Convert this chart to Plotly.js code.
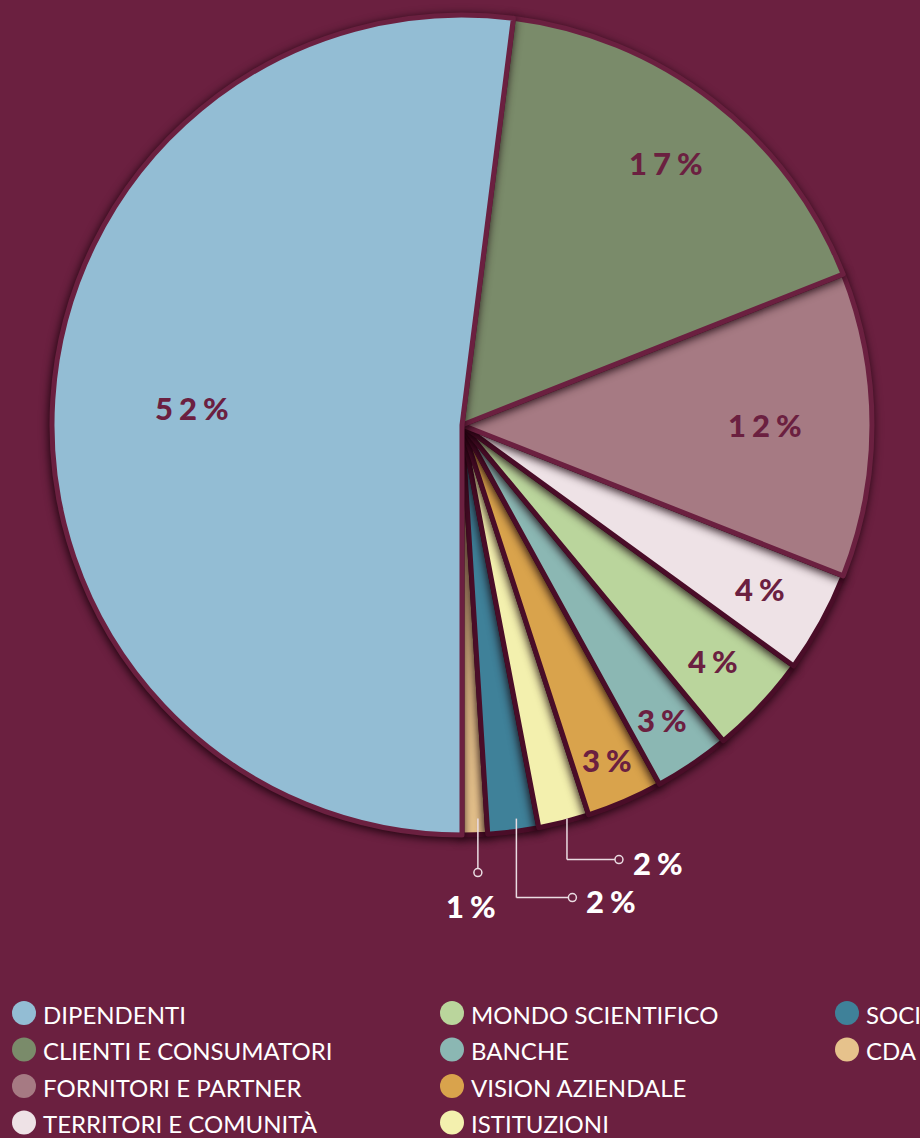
<!DOCTYPE html>
<html>
<head>
<meta charset="utf-8">
<script src="https://cdn.plot.ly/plotly-3.0.1.min.js"></script>
<style>
  html, body { margin: 0; padding: 0; background: #6B2040; }
  #chart { width: 920px; height: 1138px; }
  .slice path.surface { filter: drop-shadow(-1px 2px 5px rgba(20, 0, 8, 0.9)); }
</style>
</head>
<body>
<div id="chart"></div>
<script>
// share of stakeholders (%)
var labels = ['DIPENDENTI', 'CLIENTI E CONSUMATORI', 'FORNITORI E PARTNER', 'TERRITORI E COMUNITÀ',
    'MONDO SCIENTIFICO', 'BANCHE', 'VISION AZIENDALE', 'ISTITUZIONI', 'SOCI', 'CDA'];
var values = [52, 17, 12, 4, 4, 3, 3, 2, 2, 1];
var colors = ['#93BDD4', '#7A8B6A', '#A67A83', '#EEE2E6', '#BAD59C',
    '#8BB7B3', '#D9A34C', '#F3F0AE', '#3F8199', '#E6C28C'];

// legend columns (indexes into labels)
var legendCols = [[0, 1, 2, 3], [4, 5, 6, 7], [8, 9]];
// where the percentage sits inside each slice (fraction of radius)
var insideRadius = [0.66, 0.81, 0.74, 0.83, 0.84, 0.87, 0.89];
// thin slices get an outside label with a leader line
var outside = [7, 8, 9];
var calloutDrop = [41, 79, 54];
var calloutRun = [52, 56, 0];

var W = 920, H = 1138;
var BG = '#6B2040';
var DARK_EDGE = '#4A0D28';
var domX = [52 / W, 872 / W];
var domY = [1 - 835 / H, 1 - 15 / H];

var cx = (domX[0] + domX[1]) / 2 * W;
var cy = (1 - (domY[0] + domY[1]) / 2) * H;
var R = Math.min((domX[1] - domX[0]) * W, (domY[1] - domY[0]) * H) / 2;

function px(x) { return x / W; }
function py(y) { return 1 - y / H; }
function tracked(s) { return '<span style="letter-spacing:6px">' + s + '</span>'; }

var total = values.reduce(function (a, b) { return a + b; }, 0);
// the narrow slices are separated by darker edges
var edgeColors = values.map(function (v, i) { return i >= 3 ? DARK_EDGE : BG; });

// drawn in reverse (counterclockwise) so the big slices sit on top with their shadow;
// plotly puts the first counterclockwise slice clockwise of the rotation angle
var traces = [{
    type: 'pie',
    labels: labels.slice().reverse(),
    values: values.slice().reverse(),
    textinfo: 'none',
    sort: false,
    direction: 'counterclockwise',
    rotation: 180 - 360 * values[values.length - 1] / total,
    marker: {
        colors: colors.slice().reverse(),
        line: { color: edgeColors.slice().reverse(), width: 5 }
    },
    domain: { x: domX, y: domY },
    showlegend: false,
    hoverinfo: 'skip'
}];

// slice mid angles (clockwise from 12 o'clock, DIPENDENTI starts at 6 o'clock)
var mids = [], cum = 0;
values.forEach(function (v) { mids.push(Math.PI + 2 * Math.PI * (cum + v / 2) / total); cum += v; });

var shapes = [], annotations = [];
var pctFont = { family: 'Lato', size: 31, weight: 900, color: BG };

insideRadius.forEach(function (f, i) {
    annotations.push({
        xref: 'paper', yref: 'paper', showarrow: false,
        x: px(cx + f * R * Math.sin(mids[i]) + 3), y: py(cy - f * R * Math.cos(mids[i])),
        xanchor: 'center', yanchor: 'middle',
        text: tracked(values[i] + '%'), font: pctFont
    });
});

var lineTop = cy + 0.96 * R;
var lineStyle = { color: '#EADCE2', width: 1.5 };
outside.forEach(function (idx, k) {
    var x0 = cx + R * Math.sin(mids[idx]) + 3;
    var yEnd = lineTop + calloutDrop[k];
    var xEnd = x0 + calloutRun[k];
    shapes.push({ type: 'line', xref: 'paper', yref: 'paper',
        x0: px(x0), y0: py(lineTop), x1: px(x0), y1: py(yEnd), line: lineStyle });
    if (calloutRun[k] > 0) {
        shapes.push({ type: 'line', xref: 'paper', yref: 'paper',
            x0: px(x0), y0: py(yEnd), x1: px(xEnd), y1: py(yEnd), line: lineStyle });
    }
    shapes.push({ type: 'circle', xref: 'paper', yref: 'paper',
        xsizemode: 'pixel', ysizemode: 'pixel', xanchor: px(xEnd), yanchor: py(yEnd),
        x0: -4, x1: 4, y0: -4, y1: 4, fillcolor: BG, line: lineStyle });
    var ann = {
        xref: 'paper', yref: 'paper', showarrow: false,
        text: tracked(values[idx] + '%'),
        font: { family: 'Lato', size: 31, weight: 900, color: '#FFFFFF' }
    };
    if (calloutRun[k] > 0) {
        ann.x = px(xEnd + 12); ann.xanchor = 'left';
        ann.y = py(yEnd + 3); ann.yanchor = 'middle';
    } else {
        ann.x = px(xEnd - 4); ann.xanchor = 'center';
        ann.y = py(yEnd + 12); ann.yanchor = 'top';
    }
    annotations.push(ann);
});

// legend: three columns of dot + label
var legendX = [24, 452, 847];
var legendTop = 1013, legendStep = 36.5;
legendCols.forEach(function (col, c) {
    col.forEach(function (i, r) {
        var y = legendTop + r * legendStep;
        shapes.push({ type: 'circle', xref: 'paper', yref: 'paper',
            xsizemode: 'pixel', ysizemode: 'pixel', xanchor: px(legendX[c]), yanchor: py(y),
            x0: -12, x1: 12, y0: -12, y1: 12, fillcolor: colors[i], line: { width: 0 } });
        annotations.push({
            xref: 'paper', yref: 'paper', showarrow: false,
            x: px(legendX[c] + 17), y: py(y + 1), xanchor: 'left', yanchor: 'middle',
            text: labels[i], font: { family: 'Lato', size: 24, color: '#FFFFFF' }
        });
    });
});

var layout = {
    width: W,
    height: H,
    margin: { l: 0, r: 0, t: 0, b: 0 },
    paper_bgcolor: BG,
    shapes: shapes,
    annotations: annotations,
    hovermode: false
};

Plotly.newPlot('chart', traces, layout, { displayModeBar: false, staticPlot: true });
</script>
</body>
</html>
